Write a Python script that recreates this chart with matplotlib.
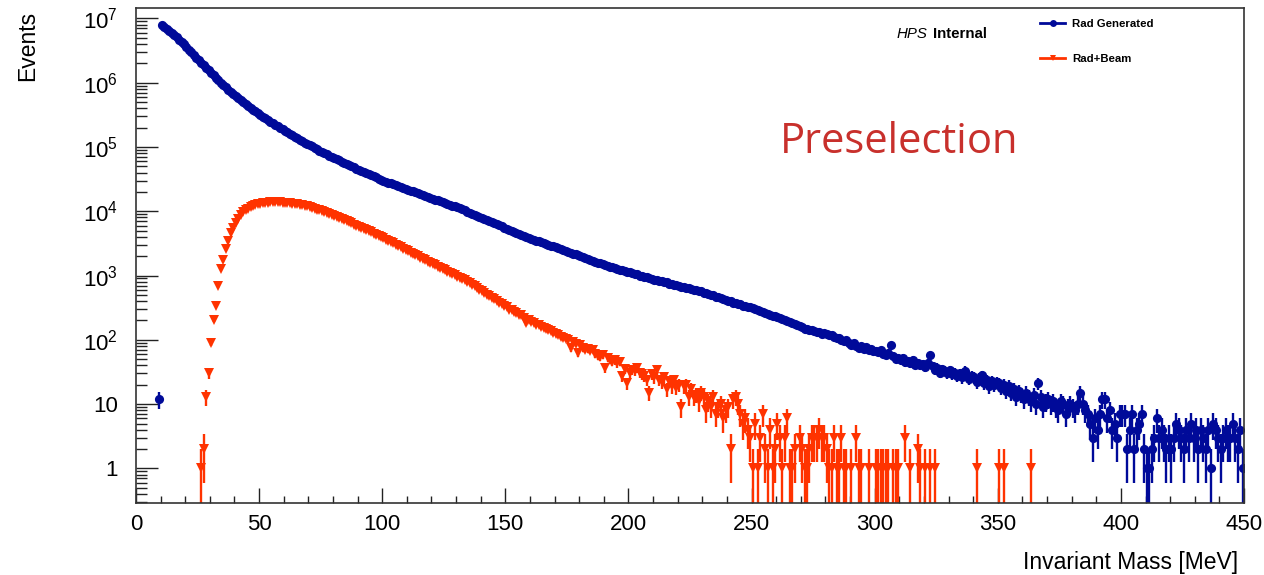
import numpy as np
import matplotlib
matplotlib.use('Agg')
import matplotlib.pyplot as plt
from matplotlib.lines import Line2D
from matplotlib.ticker import FixedLocator, LogLocator, MultipleLocator, NullFormatter

plt.rcParams['font.family'] = ['Liberation Sans', 'DejaVu Sans']
plt.rcParams['mathtext.fontset'] = 'custom'
plt.rcParams['mathtext.rm'] = 'Liberation Sans'

# histogram contents, 1 MeV bins; first entry is the bin starting at *_first_bin
bin_width = 1.0

gen_first_bin = 9
gen_counts = [
    12,
    7900000, 7300000, 6800000, 6350000, 5900000, 5500000, 5060000, 4660000, 4290000, 3940000,
    3590000, 3270000, 2970000, 2700000, 2460000, 2240000, 2050000, 1870000, 1700000, 1550000,
    1420000, 1300000, 1190000, 1090000, 1000000, 920000, 847000, 780000, 720000, 667000,
    618000, 574000, 535000, 498000, 465000, 435000, 407000, 382000, 358000, 337000,
    316000, 297000, 280000, 264000, 248000, 234000, 221000, 209000, 198000, 187000,
    177000, 168000, 159000, 151000, 144000, 136000, 130000, 123000, 117000, 112000,
    107000, 102000, 97000, 92000, 88000, 84000, 80000, 77000, 73000, 70000,
    67000, 64000, 62000, 59000, 57000, 54000, 52000, 50000, 48000, 46000,
    44300, 42500, 40800, 39300, 37800, 36300, 34900, 33600, 32300, 31000,
    29900, 28900, 28000, 27100, 26200, 25400, 24600, 23800, 23100, 22300,
    21600, 20900, 20300, 19600, 19000, 18400, 17800, 17300, 16700, 16200,
    15700, 15200, 14700, 14300, 13800, 13400, 13000, 12600, 12200, 11900,
    11500, 11100, 10700, 10300, 9900, 9500, 9200, 8900, 8550, 8250,
    7940, 7640, 7350, 7060, 6790, 6530, 6280, 6040, 5810, 5580,
    5370, 5180, 4990, 4810, 4630, 4470, 4310, 4150, 4000, 3850,
    3720, 3610, 3500, 3400, 3300, 3200, 3100, 3010, 2920, 2840,
    2750, 2670, 2580, 2500, 2420, 2340, 2270, 2200, 2130, 2060,
    2000, 1930, 1870, 1810, 1750, 1700, 1640, 1590, 1540, 1490,
    1450, 1410, 1370, 1340, 1310, 1270, 1240, 1210, 1180, 1150,
    1120, 1095, 1060, 1045, 1000, 995, 958, 946, 910, 897,
    862, 858, 826, 818, 790, 780, 752, 747, 716, 712,
    696, 670, 668, 640, 635, 622, 598, 596, 570, 568,
    545, 538, 512, 506, 490, 466, 462, 448, 426, 424,
    402, 400, 380, 380, 360, 358, 342, 340, 322, 320,
    309, 299, 290, 281, 272, 263, 255, 247, 239, 231,
    224, 216, 209, 202, 195, 188, 182, 176, 170, 164,
    158, 150, 147, 140, 144, 136, 131, 133, 124, 127,
    123, 118, 121, 110, 106, 108, 99, 96, 100, 90,
    82, 88, 80, 76, 79, 73, 77, 70, 72, 66,
    68, 64, 70, 60, 58, 62, 84, 57, 51, 53,
    48, 52, 45, 47, 43, 49, 41, 44, 40, 42,
    38, 43, 58, 39, 34, 37, 31, 35, 33, 30,
    34, 29, 31, 27, 30, 26, 33, 28, 25, 27,
    26, 22, 25, 28, 21, 24, 19, 23, 20, 22,
    21, 18, 20, 16, 19, 15, 17, 13, 16, 14,
    12, 15, 13, 11, 14, 10, 21, 13, 9, 11,
    12, 10, 11, 9, 8, 11, 10, 7, 9, 10,
    9, 8, 10, 15, 10, 8, 7, 5, 3, 6,
    4, 7, 12, 12, 6, 8, 4, 5, 3, 7,
    7, 7, 2, 4, 7, 2, 4, 5, 7, 2,
    1, 1, 2, 3, 6, 3, 4, 3, 2, 3,
    2, 3, 5, 4, 3, 2, 4, 3, 5, 3,
    4, 2, 4, 3, 2, 4, 1, 5, 4, 3,
    2, 3, 4, 3, 3, 5, 3, 2, 4, 1,
]

beam_first_bin = 26
beam_counts = [
    1, 2, 13, 30,
    90, 204, 340, 700, 1250, 1730, 2630, 3490, 4550, 5560,
    6650, 7700, 8800, 9700, 10400, 11000, 11500, 12000, 12400, 12800,
    13100, 13300, 13500, 13650, 13750, 13800, 13800, 13780, 13720, 13650,
    13550, 13450, 13320, 13180, 13020, 12850, 12650, 12440, 12200, 11900,
    11600, 11250, 10900, 10600, 10300, 10000, 9700, 9400, 9100, 8800,
    8500, 8200, 7900, 7600, 7250, 6980, 6720, 6460, 6200, 5980,
    5760, 5550, 5330, 5110, 4900, 4700, 4480, 4290, 4110, 3940,
    3770, 3610, 3460, 3310, 3170, 3030, 2890, 2760, 2630, 2510,
    2390, 2280, 2170, 2070, 1980, 1890, 1800, 1720, 1640, 1570,
    1500, 1435, 1373, 1313, 1256, 1201, 1149, 1099, 1051, 1005,
    962, 920, 880, 841, 805, 759, 716, 676, 638, 602,
    568, 536, 506, 477, 450, 425, 401, 378, 357, 338,
    320, 296, 290, 268, 262, 246, 240, 219, 180, 200,
    190, 183, 172, 171, 160, 152, 150, 140, 137, 128,
    124, 119, 110, 106, 104, 100, 74, 94, 86, 62,
    84, 74, 70, 72, 68, 70, 60, 57, 55, 58,
    36, 52, 49, 46, 48, 43, 46, 27, 35, 21,
    30, 34, 33, 36, 31, 29, 27, 24, 15, 29,
    26, 34, 24, 22, 26, 17, 23, 19, 24, 18,
    20, 9, 19, 20, 13, 17, 13, 14, 11, 15,
    13, 8, 11, 9, 13, 7, 9, 10, 6, 8,
    9, 2, 12, 13, 10, 7, 5, 6, 4, 3,
    1, 5, 1, 3, 7, 2, 1, 4, 1, 2,
    5, 3, 1, 3, 6, 1, 1, 2, 0, 3,
    2, 1, 1, 2, 3, 3, 3, 4, 3, 3,
    2, 1, 1, 3, 1, 1, 3, 1, 1, 0,
    1, 0, 3, 1, 1, 0, 0, 1, 0, 0,
    1, 1, 1, 1, 1, 1, 0, 1, 1, 1,
    0, 0, 3, 0, 1, 0, 0, 2, 1, 0,
    1, 0, 1, 0, 1, 0, 0, 0, 0, 0,
    0, 0, 0, 0, 0, 0, 0, 0, 0, 0,
    0, 1, 0, 0, 0, 0, 0, 0, 0, 0,
    1, 0, 1, 0, 0, 0, 0, 0, 0, 0,
    0, 0, 0, 1, 0,
]

gen_label = 'Rad Generated'
beam_label = 'Rad+Beam'
gen_color = '#000a99'
beam_color = '#ff3300'

x_ticks = [0, 50, 100, 150, 200, 250, 300, 350, 400, 450]
y_ticks = [1, 10, 1e2, 1e3, 1e4, 1e5, 1e6, 1e7]
y_tick_labels = ['1', '10', '$10^{2}$', '$10^{3}$', '$10^{4}$', '$10^{5}$', '$10^{6}$', '$10^{7}$']

ymin, ymax = 0.29, 1.45e7


def filled_bins(first, counts):
    counts = np.asarray(counts, dtype=float)
    centers = first + bin_width / 2 + np.arange(counts.size) * bin_width
    keep = counts > 0
    return centers[keep], counts[keep]


fig = plt.figure(figsize=(12.64, 5.75), dpi=100)
ax = fig.add_axes([0.1076, 0.1252, 0.8766, 0.8609])

for first, counts, color, marker, ms in [(gen_first_bin, gen_counts, gen_color, 'o', 6.6),
                                         (beam_first_bin, beam_counts, beam_color, 'v', 7.0)]:
    x, y = filled_bins(first, counts)
    err = np.sqrt(y)
    err_lo = np.minimum(err, y - ymin * 0.5)
    ax.errorbar(x, y, yerr=[err_lo, err], xerr=bin_width / 2, fmt=marker, color=color,
                ms=ms, mew=0, elinewidth=1.7, capsize=0)

ax.set_yscale('log')
ax.set_xlim(0, 450)
ax.set_ylim(ymin, ymax)

ax.xaxis.set_major_locator(FixedLocator(x_ticks))
ax.xaxis.set_minor_locator(MultipleLocator(10))
ax.yaxis.set_major_locator(FixedLocator(y_ticks))
ax.set_yticklabels(y_tick_labels)
ax.yaxis.set_minor_locator(LogLocator(base=10, subs=np.arange(2, 10), numticks=20))
ax.yaxis.set_minor_formatter(NullFormatter())

ax.tick_params(which='both', direction='in', top=False, right=False, colors='#222222',
               labelcolor='black', labelsize=16)
ax.tick_params(axis='x', which='major', length=10.8, width=1.0, pad=8)
ax.tick_params(axis='x', which='minor', length=5.4, width=1.0)
ax.tick_params(axis='y', which='major', length=15.8, width=1.0, pad=13)
ax.tick_params(axis='y', which='minor', length=8.0, width=1.0)
for sp in ax.spines.values():
    sp.set_color('#333333')
    sp.set_linewidth(1.2)

fig.text(1238 / 1264, 1 - 562 / 575, 'Invariant Mass [MeV]', ha='right', va='center', fontsize=16.5)
fig.text(27.5 / 1264, 1 - 11 / 575, 'Events', ha='center', va='top', rotation=90, fontsize=16.5)

fig.text(897 / 1264, 1 - 34 / 575, 'HPS', ha='left', va='center', fontsize=10.8, style='italic')
fig.text(933 / 1264, 1 - 34 / 575, 'Internal', ha='left', va='center', fontsize=10.8, weight='bold')

fig.text(780 / 1264, 1 - 142 / 575, 'Preselection', ha='left', va='center', fontsize=30,
         color='#c8302c', family=['Open Sans', 'DejaVu Sans'])

handles = [Line2D([], [], color=gen_color, marker='o', ms=5, lw=2, mew=0),
           Line2D([], [], color=beam_color, marker='v', ms=5, lw=2, mew=0)]
ax.legend(handles, [gen_label, beam_label], loc='upper left', bbox_to_anchor=(1040 / 1264, 1 - 19 / 575),
          bbox_transform=fig.transFigure, frameon=False, borderaxespad=0, borderpad=0,
          handlelength=2.2, handletextpad=0.6, labelspacing=2.2,
          prop={'weight': 'bold', 'size': 8.2})

fig.savefig('out.png', dpi=100)
